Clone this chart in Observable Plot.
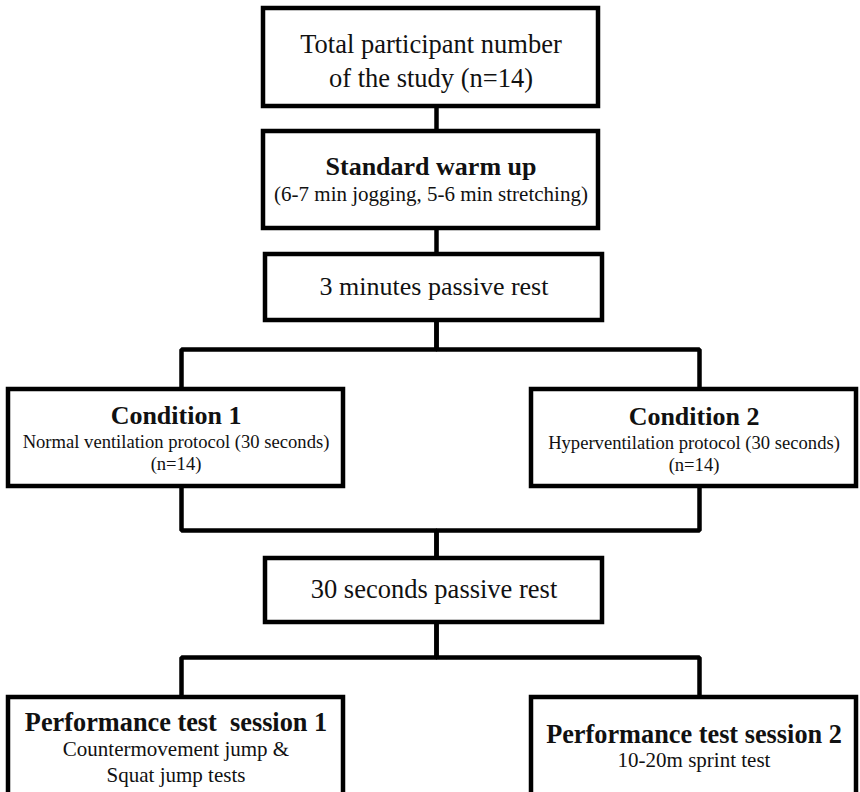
<!DOCTYPE html>
<html>
<head>
<meta charset="utf-8">
<script src="https://cdn.jsdelivr.net/npm/d3@7"></script>
<script src="https://cdn.jsdelivr.net/npm/@observablehq/plot@0.6"></script>
<style>
  html, body { margin: 0; padding: 0; background: #fff; }
  svg text { white-space: pre; font-family: "Liberation Serif", "Times New Roman", serif !important; }
</style>
</head>
<body>
<div id="chart"></div>
<script>
// Flowchart content
const nodeIds = ["total", "warmup", "rest3", "cond1", "cond2", "rest30", "perf1", "perf2"];
const nodeTitles = [
  "",
  "Standard warm up",
  "",
  "Condition 1",
  "Condition 2",
  "",
  "Performance test  session 1",
  "Performance test session 2"
];
const nodeLines = [
  ["Total participant number", "of the study (n=14)"],
  ["(6-7 min jogging, 5-6 min stretching)"],
  ["3 minutes passive rest"],
  ["Normal ventilation protocol (30 seconds)", "(n=14)"],
  ["Hyperventilation protocol (30 seconds)", "(n=14)"],
  ["30 seconds passive rest"],
  ["Countermovement jump &", "Squat jump tests"],
  ["10-20m sprint test"]
];
const edges = [
  ["total", "warmup"], ["warmup", "rest3"],
  ["rest3", "cond1"], ["rest3", "cond2"],
  ["cond1", "rest30"], ["cond2", "rest30"],
  ["rest30", "perf1"], ["rest30", "perf2"]
];

// Layout (pixel units on the diagram's coordinate grid)
const layout = {
  total:  {x1: 263, x2: 598, y1: 8,   y2: 106, title: 0,   lines: [44, 78],   lineSize: 26.5},
  warmup: {x1: 263, x2: 598, y1: 131, y2: 228, title: 166, lines: [194],      lineSize: 21},
  rest3:  {x1: 265, x2: 602, y1: 254, y2: 320, title: 0,   lines: [286],      lineSize: 26},
  cond1:  {x1: 8,   x2: 343, y1: 389, y2: 486, title: 415, lines: [442, 464], lineSize: 18.6},
  cond2:  {x1: 531, x2: 856, y1: 389, y2: 486, title: 416, lines: [443, 465], lineSize: 18.6},
  rest30: {x1: 265, x2: 602, y1: 558, y2: 622, title: 0,   lines: [589],      lineSize: 26.5},
  perf1:  {x1: 8,   x2: 343, y1: 697, y2: 810, title: 722, lines: [749, 775], lineSize: 21},
  perf2:  {x1: 531, x2: 856, y1: 697, y2: 810, title: 734, lines: [760],      lineSize: 21}
};
const connectorX = {total: 436, warmup: 436, rest3: 436, rest30: 436, cond1: 181, cond2: 699, perf1: 181, perf2: 699};
const busY = {rest3: 349, rest30: 657, cond1: 530};

const boxes = nodeIds.map((id, i) => ({id, ...layout[id], cx: (layout[id].x1 + layout[id].x2) / 2}));
const byId = Object.fromEntries(boxes.map(b => [b.id, b]));

// connector polylines
const segs = [];
edges.forEach(([a, b], k) => {
  const A = byId[a], B = byId[b];
  const xa = connectorX[a], xb = connectorX[b];
  if (a === "cond1" || a === "cond2") {
    const yb = busY.cond1;
    segs.push({k, x: xa, y: A.y2}, {k, x: xa, y: yb}, {k, x: connectorX.rest30, y: yb}, {k, x: connectorX.rest30, y: B.y1});
  } else if (busY[a] !== undefined) {
    const yb = busY[a];
    segs.push({k, x: xa, y: A.y2}, {k, x: xa, y: yb}, {k, x: xb, y: yb}, {k, x: xb, y: B.y1});
  } else {
    segs.push({k, x: xa, y: A.y2}, {k, x: xb, y: B.y1});
  }
});

const titleData = boxes.map((b, i) => ({x: b.cx, y: b.title, text: nodeTitles[i], size: b.id.startsWith("perf") ? 26.3 : 26})).filter(d => d.text);
const lineData = boxes.flatMap((b, i) => nodeLines[i].map((t, j) => ({x: b.cx, y: b.lines[j], text: t, size: b.lineSize})));

const font = "Liberation Serif";

const chart = Plot.plot({
  width: 860,
  height: 792,
  margin: 0,
  x: {domain: [0, 860], range: [0, 860], axis: null},
  y: {domain: [0, 792], range: [0, 792], axis: null},
  style: {background: "#fff", fontFamily: font},
  marks: [
    Plot.line(segs, {x: "x", y: "y", z: "k", stroke: "#000", strokeWidth: 4.5, strokeLinejoin: "miter", strokeLinecap: "square"}),
    Plot.rect(boxes, {x1: "x1", x2: "x2", y1: "y1", y2: "y2", fill: "#fff", stroke: "#000", strokeWidth: 4.5}),
    Plot.text(titleData, {x: "x", y: "y", text: "text", fontSize: "size", fontWeight: "bold", fill: "#111", fontFamily: font}),
    Plot.text(lineData, {x: "x", y: "y", text: "text", fontSize: "size", fill: "#111", fontFamily: font})
  ]
});
document.getElementById("chart").appendChild(chart);
</script>
</body>
</html>
